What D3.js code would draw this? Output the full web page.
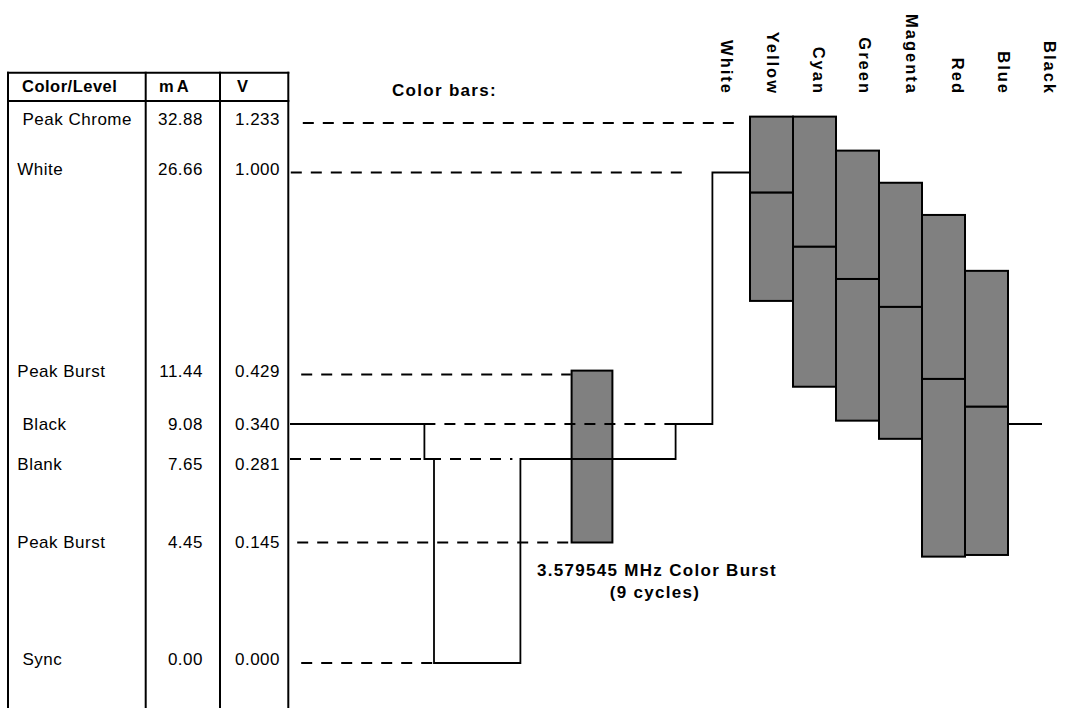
<!DOCTYPE html>
<html>
<head>
<meta charset="utf-8">
<script src="https://cdn.jsdelivr.net/npm/d3@7"></script>
<style>
  body { margin: 0; background: #fff; }
  svg { display: block; font-family: "Liberation Sans", Arial, sans-serif; }
</style>
</head>
<body>
<svg width="1075" height="708"></svg>
<script>
// table rows: name, current (mA), voltage (V)
const levelNames = [" Peak Chrome", "White", "Peak Burst", " Black", "Blank", "Peak Burst", " Sync"];
const levelMA = [32.88, 26.66, 11.44, 9.08, 7.65, 4.45, 0.00];
const levelV = [1.233, 1.000, 0.429, 0.340, 0.281, 0.145, 0.000];
const columns = ["Color/Level", "mA", "V"];

// dashed reference lines for each level (time units)
const dashStart = [0.8, 0.05, 0.7, 8.4, 0.0, 0.45, 0.7];
const dashEnd = [28.2, 25.0, 17.55, 24.1, 13.9, 17.4, 9.0];

// luma waveform (step after each point)
const waveT = [0, 8.4, 9.0, 14.4, 24.1, 26.4, 28.75];
const waveV = [0.340, 0.281, 0.000, 0.281, 0.340, 1.000, 1.000];
const tailT = [44.875, 47.0];
const tailV = 0.340;

// color burst
const burstT = [17.6, 20.15];
const burstV = [0.440, 0.145];

// color bars: chroma peak, luma, chroma trough
const barNames = ["Yellow", "Cyan", "Green", "Magenta", "Red", "Blue"];
const barHigh = [1.263, 1.263, 1.103, 0.971, 0.880, 0.722];
const barLuma = [0.943, 0.790, 0.699, 0.620, 0.421, 0.371];
const barLow = [0.637, 0.407, 0.346, 0.315, 0.128, 0.130];
const barSpan = [28.75, 44.875];

const stripeLabels = ["White", "Yellow", "Cyan", "Green", "Magenta", "Red", "Blue", "Black"];

const svg = d3.select('svg');

// diagram is not to scale: piecewise vertical scale through the table levels
const y = d3.scaleLinear()
    .domain(levelV)
    .range([123, 172.5, 374.5, 424, 459, 542.5, 663]);
const x = d3.scaleLinear().domain([0, 47]).range([290, 1042]);
const xBar = d3.scaleBand().domain(barNames).range(barSpan.map(x));
const xLabel = d3.scalePoint().domain(stripeLabels).range([727, 1050]);

// ---- table
const colX = [8, 145.7, 220, 288.3];
const tableTop = 72.7, headBottom = 101;
const table = svg.append('g').attr('stroke', '#000').attr('stroke-width', 2);
colX.forEach(cx => table.append('line')
    .attr('x1', cx).attr('x2', cx).attr('y1', tableTop - 1).attr('y2', 708));
[tableTop, headBottom].forEach(cy => table.append('line')
    .attr('x1', colX[0] - 1).attr('x2', colX[3] + 1).attr('y1', cy).attr('y2', cy));

const headX = [22, 159, 237];
const headSpacing = [0.5, 3, 0];
svg.selectAll('.head')
    .data(columns).enter()
    .append('text')
        .attr('class', 'head')
        .attr('x', (d, i) => headX[i])
        .attr('y', 92)
        .attr('font-size', 16.5)
        .attr('font-weight', 'bold')
        .attr('letter-spacing', (d, i) => headSpacing[i])
        .text(d => d);

const rowNudge = [0, 0, 0, 4, 9, 3, 0];
const rows = svg.selectAll('.row')
    .data(levelV).enter()
    .append('g')
        .attr('class', 'row')
        .attr('transform', (d, i) => `translate(0,${y(d) + 2 + rowNudge[i]})`)
        .attr('font-size', 17)
        .attr('letter-spacing', 0.5);
rows.append('text')
    .attr('x', 17.3)
    .style('white-space', 'pre')
    .text((d, i) => levelNames[i]);
rows.append('text')
    .attr('x', 203)
    .attr('text-anchor', 'end')
    .text((d, i) => levelMA[i].toFixed(2));
rows.append('text')
    .attr('x', 280)
    .attr('text-anchor', 'end')
    .text(d => d.toFixed(3));

// ---- burst
svg.append('rect')
    .attr('x', x(burstT[0]))
    .attr('width', x(burstT[1]) - x(burstT[0]))
    .attr('y', y(burstV[0]))
    .attr('height', y(burstV[1]) - y(burstV[0]))
    .attr('fill', '#808080')
    .attr('stroke', '#000')
    .attr('stroke-width', 2);

// ---- dashed level lines
svg.selectAll('.dash')
    .data(levelV).enter()
    .append('line')
        .attr('class', 'dash')
        .attr('x1', (d, i) => x(dashStart[i]))
        .attr('x2', (d, i) => x(dashEnd[i]))
        .attr('y1', d => y(d))
        .attr('y2', d => y(d))
        .attr('stroke', '#000')
        .attr('stroke-width', 2)
        .attr('stroke-dasharray', '11,9');

// ---- waveform
const line = d3.line()
    .x(d => x(d[0]))
    .y(d => y(d[1]))
    .curve(d3.curveStepAfter);
svg.append('path')
    .attr('d', line(waveT.map((t, i) => [t, waveV[i]])))
    .attr('fill', 'none')
    .attr('stroke', '#000')
    .attr('stroke-width', 1.8);
svg.append('path')
    .attr('d', line(tailT.map(t => [t, tailV])))
    .attr('fill', 'none')
    .attr('stroke', '#000')
    .attr('stroke-width', 1.8);

// ---- color bars (upper and lower half)
const bars = svg.selectAll('.bar')
    .data(barNames).enter()
    .append('g')
        .attr('class', 'bar')
        .attr('fill', '#808080')
        .attr('stroke', '#000')
        .attr('stroke-width', 2);
bars.append('rect')
    .attr('x', d => xBar(d))
    .attr('width', xBar.bandwidth())
    .attr('y', (d, i) => y(barHigh[i]))
    .attr('height', (d, i) => y(barLuma[i]) - y(barHigh[i]));
bars.append('rect')
    .attr('x', d => xBar(d))
    .attr('width', xBar.bandwidth())
    .attr('y', (d, i) => y(barLuma[i]))
    .attr('height', (d, i) => y(barLow[i]) - y(barLuma[i]));

// ---- labels
svg.append('text')
    .attr('x', 392).attr('y', 96)
    .attr('font-size', 17).attr('font-weight', 'bold')
    .attr('letter-spacing', 1.3)
    .text('Color bars:');

svg.selectAll('.stripe')
    .data(stripeLabels).enter()
    .append('text')
        .attr('class', 'stripe')
        .attr('transform', d => `translate(${xLabel(d) - 6},95) rotate(90)`)
        .attr('text-anchor', 'end')
        .attr('font-size', 16.5)
        .attr('font-weight', 'bold')
        .attr('letter-spacing', 2)
        .text(d => d);

const note = svg.append('text')
    .attr('font-size', 17).attr('font-weight', 'bold')
    .attr('letter-spacing', 1.3)
    .attr('text-anchor', 'middle');
note.append('tspan').attr('x', 657).attr('y', 576).text('3.579545 MHz Color Burst');
note.append('tspan').attr('x', 655).attr('y', 598).text('(9 cycles)');
</script>
</body>
</html>
